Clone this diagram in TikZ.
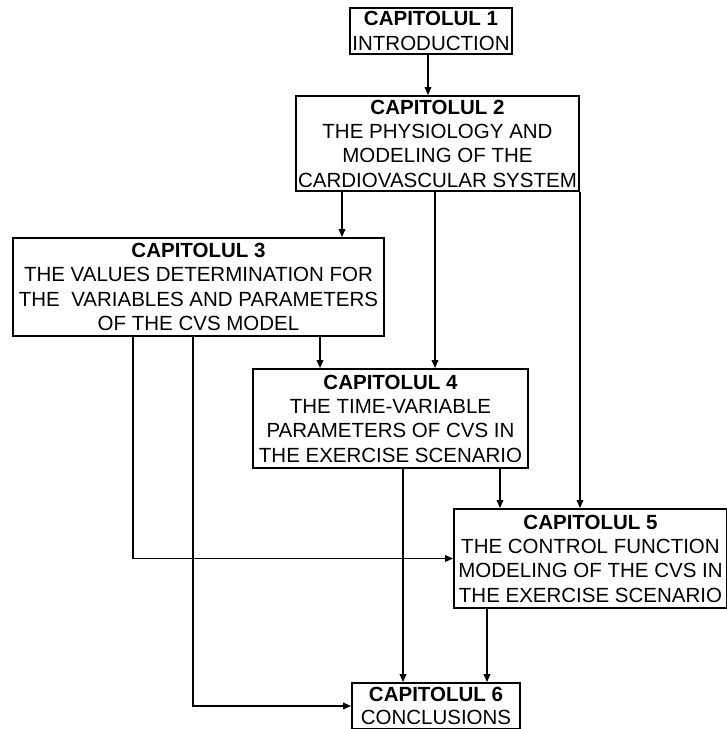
\documentclass[tikz,border=0pt]{standalone}
\usepackage{fontspec}
\setmainfont{Liberation Sans}
\usetikzlibrary{arrows.meta}
\begin{document}
\begin{tikzpicture}[x=1pt,y=-1pt,
  chap/.style={draw,line width=1.8pt,inner sep=0pt,align=center,
    font=\fontsize{20.5}{24.3}\selectfont},
  arr/.style={line width=1.7pt,-{Triangle[length=8pt,width=6.5pt]}},
  wire/.style={line width=1.6pt}]
\useasboundingbox (0,0) rectangle (727,729);
\node[chap,minimum width=162pt,minimum height=46pt] (b1) at (431,31)
  {\textbf{CAPITOLUL 1}\\INTRODUCTION};
\node[chap,minimum width=283pt,minimum height=95pt] (b2) at (437.5,143.5)
  {\textbf{CAPITOLUL 2}\\THE PHYSIOLOGY AND\\MODELING OF THE\\CARDIOVASCULAR SYSTEM};
\node[chap,minimum width=371pt,minimum height=98pt] (b3) at (198.5,287)
  {\textbf{CAPITOLUL 3}\\THE VALUES DETERMINATION FOR\\THE\ \ VARIABLES AND PARAMETERS\\OF THE CVS MODEL};
\node[chap,minimum width=275pt,minimum height=99pt] (b4) at (390.5,418.5)
  {\textbf{CAPITOLUL 4}\\THE TIME-VARIABLE\\PARAMETERS OF CVS IN\\THE EXERCISE SCENARIO};
\node[chap,minimum width=273pt,minimum height=99pt] (b5) at (590.5,558.5)
  {\textbf{CAPITOLUL 5}\\THE CONTROL FUNCTION\\MODELING OF THE CVS IN\\THE EXERCISE SCENARIO};
\node[chap,minimum width=168pt,minimum height=46pt,
  font=\fontsize{20.5}{23.5}\selectfont] (b6) at (436,706)
  {\textbf{CAPITOLUL 6}\\CONCLUSIONS};
\coordinate (x1) at (428,0);
\coordinate (x2) at (342,0);
\coordinate (x3) at (435,0);
\coordinate (x4) at (580,0);
\coordinate (x5) at (320,0);
\coordinate (x6) at (133,0);
\coordinate (x7) at (193,0);
\coordinate (x8) at (403,0);
\coordinate (x9) at (500,0);
\coordinate (x10) at (487,0);
\draw[arr] (b1.south -| x1) -- (b2.north -| x1);
\draw[arr] (b2.south -| x2) -- (b3.north -| x2);
\draw[arr] (b2.south -| x3) -- (b4.north -| x3);
\draw[arr] (b2.south -| x4) -- (b5.north -| x4);
\draw[arr] (b3.south -| x5) -- (b4.north -| x5);
\draw[arr] (b3.south -| x6) |- (b5.west);
\draw[arr] (b3.south -| x7) |- (b6.west);
\draw[arr] (b4.south -| x8) -- (b6.north -| x8);
\draw[arr] (b4.south -| x9) -- (b5.north -| x9);
\draw[arr] (b5.south -| x10) -- (b6.north -| x10);
\end{tikzpicture}
\end{document}
